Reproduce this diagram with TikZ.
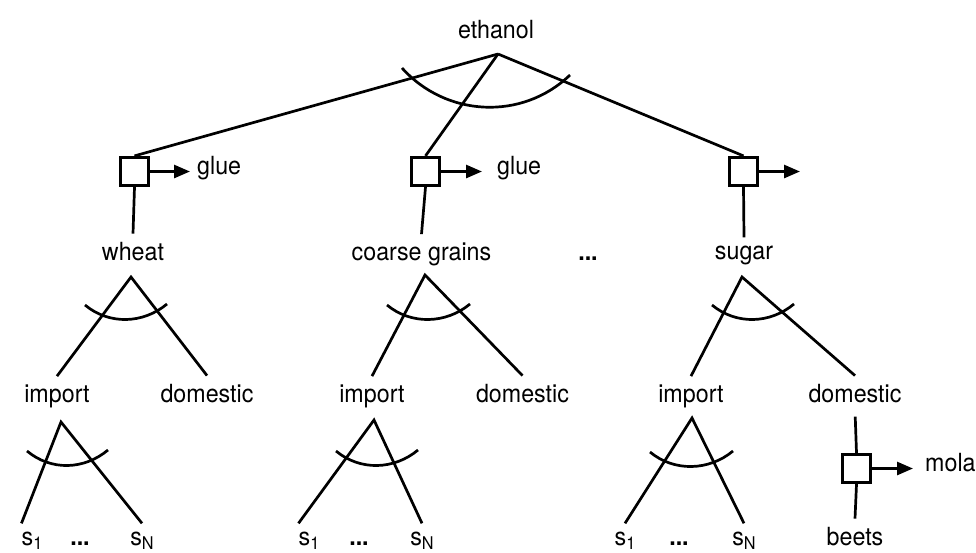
\documentclass[tikz,border=0pt]{standalone}
\usepackage{fontspec}
\setmainfont{TeX Gyre Heros}[FakeStretch=0.93]
\usetikzlibrary{arrows.meta}

\newcommand{\lowidx}[1]{\raisebox{-4pt}{\fontsize{17.5}{20}\selectfont #1}}

\begin{document}
\begin{tikzpicture}[x=1pt,y=-1pt,
  lbl/.style={inner xsep=0pt, inner ysep=8pt, anchor=base, font=\fontsize{25}{30}\selectfont},
  procbox/.style={draw, line width=3.2pt, minimum size=28pt, inner sep=0pt},
  leg/.style={line width=2.7pt},
  outflow/.style={line width=2.7pt, -{Triangle[length=16pt,width=13pt]}}]
\useasboundingbox (0,0) rectangle (976,552);

  % Draw the top and its fork
  \node[lbl] (eth) at (496,38) {ethanol};
  \coordinate (efork) at (498,54);

  % Draw the boxes with their outflows
  \node[procbox] (wbox) at (134.5,171.5) {};
  \node[procbox] (cbox) at (425.5,171.5) {};
  \node[procbox] (sbox) at (743.5,171.5) {};
  \coordinate (wtip) at (190,171.5);
  \coordinate (ctip) at (482,171.5);
  \coordinate (stip) at (800,171.5);
  \node[lbl, anchor=base west] (wglue) at (197,174) {glue};
  \node[lbl, anchor=base west] (cglue) at (497,174) {glue};

  \draw[leg] (efork) -- (wbox.north);
  \draw[leg] (efork) -- (cbox.north);
  \draw[leg] (efork) -- (sbox.north);
  \draw[leg] (402,68) .. controls +(44,49) and +(-48,46) .. (570,75);

  \draw[outflow] (wbox.east) -- (wtip);
  \draw[outflow] (cbox.east) -- (ctip);
  \draw[outflow] (sbox.east) -- (stip);

  % Draw the crops
  \node[lbl] (wheat) at (133,260) {wheat};
  \node[lbl] (coarse) at (421.5,260) {coarse grains};
  \node[lbl] (midgap) at (588,260) {\textbf{...}};
  \node[lbl] (sugar) at (744,259) {sugar};

  \draw[leg] (wbox.south) -- (wheat.north);
  \draw[leg] (cbox.south) -- (coarse.north);
  \draw[leg] (sbox.south) -- (sugar.north);

  \coordinate (wfork) at (131,277);
  \coordinate (cfork) at (425,275);
  \coordinate (sfork) at (742,277);

  % import and domestic
  \node[lbl] (wimp) at (57,402) {import};
  \node[lbl] (wdom) at (207,402) {domestic};
  \node[lbl] (cimp) at (372,402) {import};
  \node[lbl] (cdom) at (522.5,402) {domestic};
  \node[lbl] (simp) at (691,402) {import};
  \node[lbl] (sdom) at (855,402) {domestic};

  \draw[leg] (wimp.north) -- (wfork) -- (wdom.north);
  \draw[leg] (cimp.north) -- (cfork) -- (cdom.north);
  \draw[leg] (simp.north) -- (sfork) -- (sdom.north);
  \draw[leg] (85,305) .. controls +(24,20) and +(-24,20) .. (167,304);
  \draw[leg] (387,305) .. controls +(24,20) and +(-24,20) .. (470,304);
  \draw[leg] (712,305) .. controls +(24,20) and +(-24,20) .. (794,304);

  % the suppliers
  \coordinate (wfork2) at (61,422);
  \coordinate (cfork2) at (374,420);
  \coordinate (sfork2) at (692,418);

  \node[lbl] (ws1) at (32,545) {s\lowidx{1}};
  \node[lbl] (wgap) at (80,545) {\textbf{...}};
  \node[lbl] (wsn) at (142,545) {s\lowidx{N}};
  \node[lbl] (cs1) at (309,545) {s\lowidx{1}};
  \node[lbl] (cgap) at (359,545) {\textbf{...}};
  \node[lbl] (csn) at (422,545) {s\lowidx{N}};
  \node[lbl] (ss1) at (625,545) {s\lowidx{1}};
  \node[lbl] (sgap) at (679,545) {\textbf{...}};
  \node[lbl] (ssn) at (744,545) {s\lowidx{N}};

  \draw[leg] (ws1.north west) -- (wfork2) -- (wsn.north);
  \draw[leg] (cs1.north west) -- (cfork2) -- (csn.north);
  \draw[leg] (ss1.north) -- (sfork2) -- (ssn.north);
  \draw[leg] (27,451) .. controls +(24,20) and +(-24,20) .. (108,450);
  \draw[leg] (336,451) .. controls +(24,20) and +(-24,20) .. (418,450);
  \draw[leg] (650,452) .. controls +(24,20) and +(-24,20) .. (733,451);

  % domestic sugar comes from beets
  \node[procbox] (mbox) at (856.5,468.5) {};
  \coordinate (mtip) at (913,468.5);
  \node[lbl, anchor=base west] (mola) at (925,471) {mola};
  \node[lbl] (beets) at (855,545) {beets};

  \draw[leg, shorten <=6pt] (sdom.south) -- (mbox.north);
  \draw[leg] (mbox.south) -- (beets.north);
  \draw[outflow] (mbox.east) -- (mtip);

\end{tikzpicture}
\end{document}
